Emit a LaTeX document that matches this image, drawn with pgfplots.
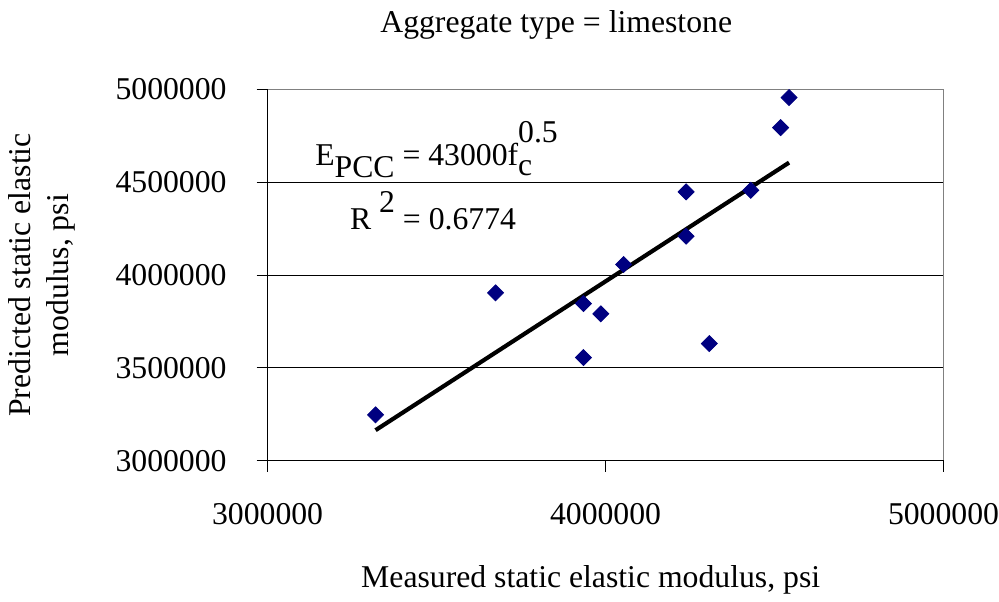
\documentclass[border=0pt]{standalone}
\usepackage{fontspec}
\setmainfont{Liberation Serif}
\usepackage{pgfplots}
\pgfplotsset{compat=1.18}
\definecolor{Navy}{HTML}{000080}
\definecolor{Frame}{HTML}{808080}
\newcommand{\cf}{\fontsize{16}{19.2}\selectfont}

\begin{document}
\begin{tikzpicture}[font=\cf]
\begin{axis}[
  scale only axis,width=341pt,height=187.5pt,
  xmin=3000000,xmax=5000000,ymin=3000000,ymax=5000000,
  xtick={3000000,4000000,5000000},
  ytick={3000000,3500000,4000000,4500000,5000000},
  scaled ticks=false,
  /pgf/number format/.cd,fixed,precision=0,1000 sep={},assume math mode=true,/pgfplots/.cd,
  tick label style={font=\cf},
  xtick pos=bottom,ytick pos=left,tick align=outside,
  major tick length=5.5pt,tick style={black,line width=0.5pt},
  axis line style={Frame,line width=0.5pt},
  ymajorgrids,grid style={black,line width=0.5pt},
  yticklabel style={anchor=east,inner sep=0pt,xshift=-15pt},
  xticklabel style={anchor=north,inner sep=0pt,yshift=-16pt},
  clip=false,
  xlabel={Measured static elastic modulus, psi},
  ylabel={Predicted static elastic\\modulus, psi},
  every axis x label/.style={at={(rel axis cs:0.478,-0.3413)},anchor=base},
  every axis y label/.style={at={(rel axis cs:-0.3343,0.5)},anchor=center,rotate=90,align=center},
  title={Aggregate type = limestone},
  every axis title/.style={at={(rel axis cs:0.427,1.1733)},anchor=center},
]
% measured vs predicted
\addplot[only marks,mark=square*,mark size=2.85pt,
  mark options={rotate=45,fill=Navy,draw=Navy}] coordinates {
  (3319500,3247500) (3674600,3904000) (3934700,3846600) (3934700,3556000)
  (3986000,3791000) (4053500,4056500) (4238300,4447500) (4238300,4209000)
  (4307000,3631000) (4429700,4456000) (4518000,4793000) (4543000,4955000)
};
% trend line
\addplot[black,line width=2.1pt] coordinates {(3319500,3165000) (4543000,4605000)};
\draw[Frame,line width=0.5pt] (rel axis cs:0,1) -- (rel axis cs:1,1) -- (rel axis cs:1,0);
\draw[black,line width=0.5pt] (rel axis cs:0,1) -- (rel axis cs:0,0) -- (rel axis cs:1,0);
\node[anchor=base west,inner sep=0pt] at (axis cs:3140000,4590000)
  {E\raisebox{-6pt}{PCC} = 43000f\rlap{\raisebox{-5pt}{c}}\raisebox{11.5pt}{0.5}};
\node[anchor=base west,inner sep=0pt] at (axis cs:3243000,4245000)
  {R\hspace{4pt}\raisebox{8.5pt}{2} = 0.6774};
\coordinate (bl) at (rel axis cs:0,0);
\coordinate (tr) at (rel axis cs:1,1);
\end{axis}
\path[use as bounding box] ([shift={(-135pt,-68.5pt)}]bl) rectangle ([shift={(23.5pt,45pt)}]tr);
\end{tikzpicture}
\end{document}
